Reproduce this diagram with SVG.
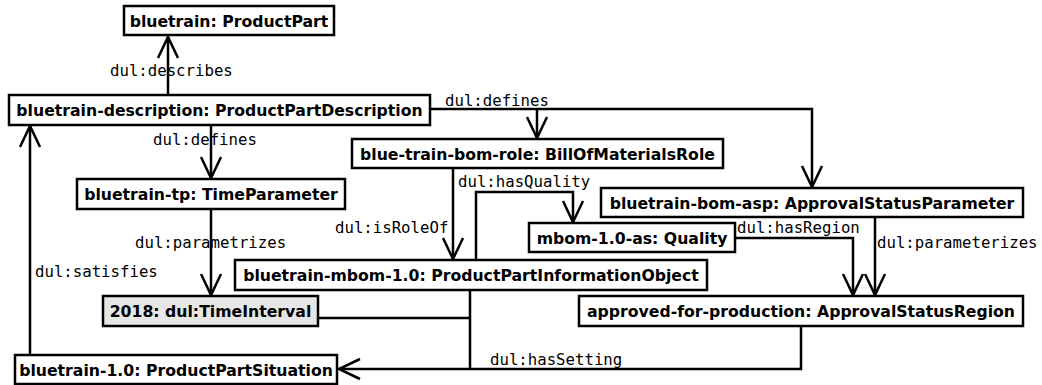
<svg xmlns="http://www.w3.org/2000/svg" width="1042" height="385" viewBox="0 0 1042 385">
  <style>
    .box { fill: #ffffff; stroke: #000000; stroke-width: 2.5; }
    .box.grey { fill: #e6e6e6; }
    .name { font-family: "DejaVu Sans", "Liberation Sans", sans-serif; font-weight: bold; font-size: 15.7px; text-anchor: middle; fill: #000000; }
    .rel { font-family: "DejaVu Sans Mono", "Liberation Mono", monospace; font-size: 15.7px; fill: #000000; }
    .edge { fill: none; stroke: #000000; stroke-width: 2.5; }
    .arrow { marker-end: url(#open); }
  </style>
  <defs>
    <marker id="open" markerUnits="userSpaceOnUse" markerWidth="24" markerHeight="24" viewBox="-22 -12 24 24" refX="0" refY="0" orient="auto" overflow="visible">
      <path d="M-21,-10 L0,0 L-21,10" fill="none" stroke="#000000" stroke-width="2.5"/>
    </marker>
  </defs>

  <!-- connectors -->
  <g id="connectors">
    <path class="edge arrow" d="M168,95 L168,37"/>
    <path class="edge arrow" d="M211,125 L211,178"/>
    <path class="edge arrow" d="M211,209 L211,295"/>
    <path class="edge arrow" d="M30,355 L30,126"/>
    <path class="edge arrow" d="M430,109 L812,109 L812,187"/>
    <path class="edge arrow" d="M537,109 L537,138"/>
    <path class="edge arrow" d="M453,168 L453,259"/>
    <path class="edge arrow" d="M476,260 L476,192 L573,192 L573,222"/>
    <path class="edge arrow" d="M735,238 L853,238 L853,295"/>
    <path class="edge arrow" d="M875,217 L875,295"/>
    <path class="edge" d="M318,318 L470,318"/>
    <path class="edge" d="M470,290 L470,369"/>
    <path class="edge" d="M801,326 L801,369 L470,369"/>
    <path class="edge arrow" d="M470,369 L339,369"/>

    <text class="rel" x="110" y="76">dul:describes</text>
    <text class="rel" x="153" y="145">dul:defines</text>
    <text class="rel" x="445" y="106">dul:defines</text>
    <text class="rel" x="458" y="187">dul:hasQuality</text>
    <text class="rel" x="335" y="233">dul:isRoleOf</text>
    <text class="rel" x="135" y="248">dul:parametrizes</text>
    <text class="rel" x="35" y="277">dul:satisfies</text>
    <text class="rel" x="737" y="233">dul:hasRegion</text>
    <text class="rel" x="877" y="248">dul:parameterizes</text>
    <text class="rel" x="490" y="365">dul:hasSetting</text>
  </g>

  <g id="product-part">
    <rect class="box" x="124" y="6" width="210" height="29"/>
    <text class="name" x="229" y="26.5">bluetrain: ProductPart</text>
  </g>
  <g id="product-part-description">
    <rect class="box" x="9" y="95" width="421" height="30"/>
    <text class="name" x="219.5" y="116">bluetrain-description: ProductPartDescription</text>
  </g>
  <g id="bill-of-materials-role">
    <rect class="box" x="352" y="139" width="371" height="29"/>
    <text class="name" x="537.5" y="159.5">blue-train-bom-role: BillOfMaterialsRole</text>
  </g>
  <g id="time-parameter">
    <rect class="box" x="77" y="179" width="268" height="30"/>
    <text class="name" x="211" y="200">bluetrain-tp: TimeParameter</text>
  </g>
  <g id="approval-status-parameter">
    <rect class="box" x="601" y="188" width="422" height="29"/>
    <text class="name" x="812" y="208.5">bluetrain-bom-asp: ApprovalStatusParameter</text>
  </g>
  <g id="quality">
    <rect class="box" x="529" y="223" width="206" height="29"/>
    <text class="name" x="632" y="243.5">mbom-1.0-as: Quality</text>
  </g>
  <g id="information-object">
    <rect class="box" x="235" y="260" width="472" height="30"/>
    <text class="name" x="471" y="281">bluetrain-mbom-1.0: ProductPartInformationObject</text>
  </g>
  <g id="time-interval">
    <rect class="box grey" x="103" y="296" width="215" height="30"/>
    <text class="name" x="210.5" y="317">2018: dul:TimeInterval</text>
  </g>
  <g id="approval-status-region">
    <rect class="box" x="579" y="296" width="444" height="30"/>
    <text class="name" x="801" y="317">approved-for-production: ApprovalStatusRegion</text>
  </g>
  <g id="product-part-situation">
    <rect class="box" x="15" y="355" width="322" height="29"/>
    <text class="name" x="176" y="375.5">bluetrain-1.0: ProductPartSituation</text>
  </g>
</svg>
